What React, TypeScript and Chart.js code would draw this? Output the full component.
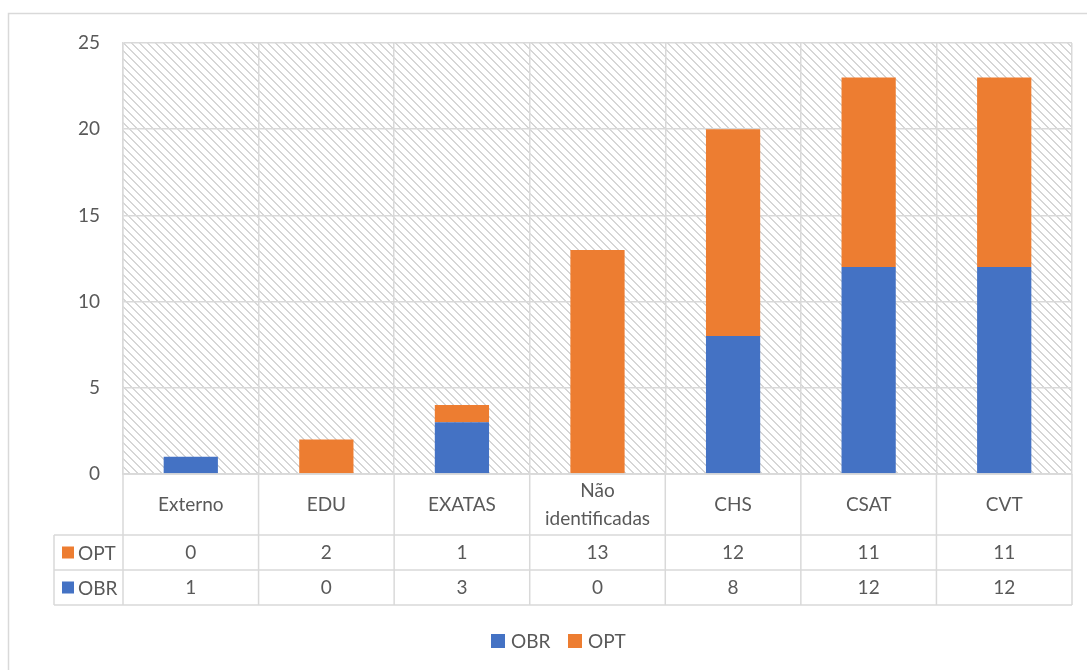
import React, { useEffect, useRef } from "react";
import { Chart, registerables } from "chart.js";

Chart.register(...registerables);

const categories = ["Externo", "EDU", "EXATAS", "Não identificadas", "CHS", "CSAT", "CVT"];
const obrValues = [1, 0, 3, 0, 8, 12, 12];
const optValues = [0, 2, 1, 13, 12, 11, 11];
const seriesNames = ["OBR", "OPT"];
const seriesColors = ["#4472C4", "#ED7D31"];
const yMin = 0;
const yMax = 25;
const yStep = 5;

const FONT = "Lato, 'Liberation Sans', sans-serif";
const TEXT = "#595959";
const LINE = "#d9d9d9";

function makePattern(ctx: CanvasRenderingContext2D): CanvasPattern | string {
  const c = document.createElement("canvas");
  c.width = 8;
  c.height = 8;
  const p = c.getContext("2d");
  if (!p) return "#f2f2f2";
  p.fillStyle = "#ffffff";
  p.fillRect(0, 0, 8, 8);
  p.fillStyle = "#d6d6d6";
  for (let i = 0; i < 8; i++) {
    p.fillRect(i, i, 1, 1);
    p.fillRect((i + 1) % 8, i, 1, 1);
  }
  return ctx.createPattern(c, "repeat") || "#f2f2f2";
}

const tablePlugin = {
  id: "tablePlugin",
  beforeDraw(chart: any) {
    const { ctx, chartArea, width, height } = chart;
    ctx.save();
    ctx.fillStyle = "#ffffff";
    ctx.fillRect(0, 0, width, height);
    ctx.strokeStyle = LINE;
    ctx.lineWidth = 1.5;
    ctx.beginPath();
    ctx.moveTo(8.5, height + 5);
    ctx.lineTo(8.5, 13.5);
    ctx.lineTo(width + 5, 13.5);
    ctx.stroke();
    ctx.fillStyle = makePattern(ctx);
    ctx.fillRect(chartArea.left, chartArea.top, chartArea.right - chartArea.left, chartArea.bottom - chartArea.top);
    ctx.restore();
  },
  afterDraw(chart: any) {
    const { ctx, chartArea } = chart;
    const xs = chart.scales.x;
    const n = categories.length;
    const colW = (chartArea.right - chartArea.left) / n;
    const top = chartArea.bottom;
    const r1 = top + 61;
    const r2 = r1 + 35;
    const r3 = r2 + 35;
    const headL = 54;
    ctx.save();
    ctx.strokeStyle = LINE;
    ctx.lineWidth = 1.5;
    ctx.beginPath();
    // horizontal lines
    ctx.moveTo(chartArea.left, top);
    ctx.lineTo(chartArea.right, top);
    ctx.moveTo(headL, r1);
    ctx.lineTo(chartArea.right, r1);
    ctx.moveTo(headL, r2);
    ctx.lineTo(chartArea.right, r2);
    ctx.moveTo(headL, r3);
    ctx.lineTo(chartArea.right, r3);
    // vertical lines
    ctx.moveTo(headL, r1);
    ctx.lineTo(headL, r3);
    for (let i = 0; i <= n; i++) {
      const x = chartArea.left + i * colW;
      ctx.moveTo(x, top);
      ctx.lineTo(x, r3);
    }
    ctx.stroke();

    ctx.fillStyle = TEXT;
    ctx.font = `19px ${FONT}`;
    ctx.textAlign = "center";
    ctx.textBaseline = "middle";
    categories.forEach((cat, i) => {
      const cx = xs.getPixelForValue(i);
      const cy = (top + r1) / 2;
      if (ctx.measureText(cat).width > colW - 10) {
        const parts = cat.split(" ");
        ctx.fillText(parts[0], cx, cy - 14);
        ctx.fillText(parts.slice(1).join(" "), cx, cy + 14);
      } else {
        ctx.fillText(cat, cx, cy);
      }
      ctx.fillText(String(optValues[i]), cx, (r1 + r2) / 2);
      ctx.fillText(String(obrValues[i]), cx, (r2 + r3) / 2);
    });

    // row headers
    const rows = [
      { name: seriesNames[1], color: seriesColors[1], cy: (r1 + r2) / 2 },
      { name: seriesNames[0], color: seriesColors[0], cy: (r2 + r3) / 2 },
    ];
    ctx.textAlign = "left";
    rows.forEach((r) => {
      ctx.fillStyle = r.color;
      ctx.fillRect(62, r.cy - 6, 12, 12);
      ctx.fillStyle = TEXT;
      ctx.fillText(r.name, 78, r.cy + 1);
    });

    // legend
    const ly = 641;
    const items = [
      { name: seriesNames[0], color: seriesColors[0], x: 491 },
      { name: seriesNames[1], color: seriesColors[1], x: 568 },
    ];
    items.forEach((it) => {
      ctx.fillStyle = it.color;
      ctx.fillRect(it.x, ly - 7, 14, 14);
      ctx.fillStyle = TEXT;
      ctx.fillText(it.name, it.x + 20, ly + 1);
    });
    ctx.restore();
  },
};

export default function App() {
  const ref = useRef<HTMLCanvasElement | null>(null);
  useEffect(() => {
    if (!ref.current) return;
    const chart = new Chart(ref.current, {
      type: "bar",
      data: {
        labels: categories,
        datasets: [
          { label: seriesNames[0], data: obrValues, backgroundColor: seriesColors[0], barPercentage: 0.4, categoryPercentage: 1 },
          { label: seriesNames[1], data: optValues, backgroundColor: seriesColors[1], barPercentage: 0.4, categoryPercentage: 1 },
        ],
      },
      options: {
        animation: false,
        responsive: false,
        maintainAspectRatio: false,
        layout: { padding: { top: 43, right: 15, bottom: 196, left: 0 } },
        plugins: { legend: { display: false }, tooltip: { enabled: false } },
        scales: {
          x: {
            stacked: true,
            ticks: { display: false },
            grid: { color: LINE, offset: true, drawTicks: false, lineWidth: 1.5 },
            border: { color: LINE, width: 1.5 },
            afterFit: (s: any) => {
              s.height = 0;
            },
          },
          y: {
            stacked: true,
            min: yMin,
            max: yMax,
            ticks: { stepSize: yStep, padding: 23, color: TEXT, font: { family: FONT, size: 19 } },
            grid: { color: LINE, drawTicks: false, lineWidth: 1.5 },
            border: { color: LINE, width: 1.5 },
            afterFit: (s: any) => {
              s.width = 123;
            },
          },
        },
      },
      plugins: [tablePlugin],
    });
    return () => chart.destroy();
  }, []);
  return (
    <div style={{ position: "fixed", left: 0, top: 0, width: 1087, height: 670 }}>
      <canvas ref={ref} width={1087} height={670} style={{ width: 1087, height: 670 }} />
    </div>
  );
}
